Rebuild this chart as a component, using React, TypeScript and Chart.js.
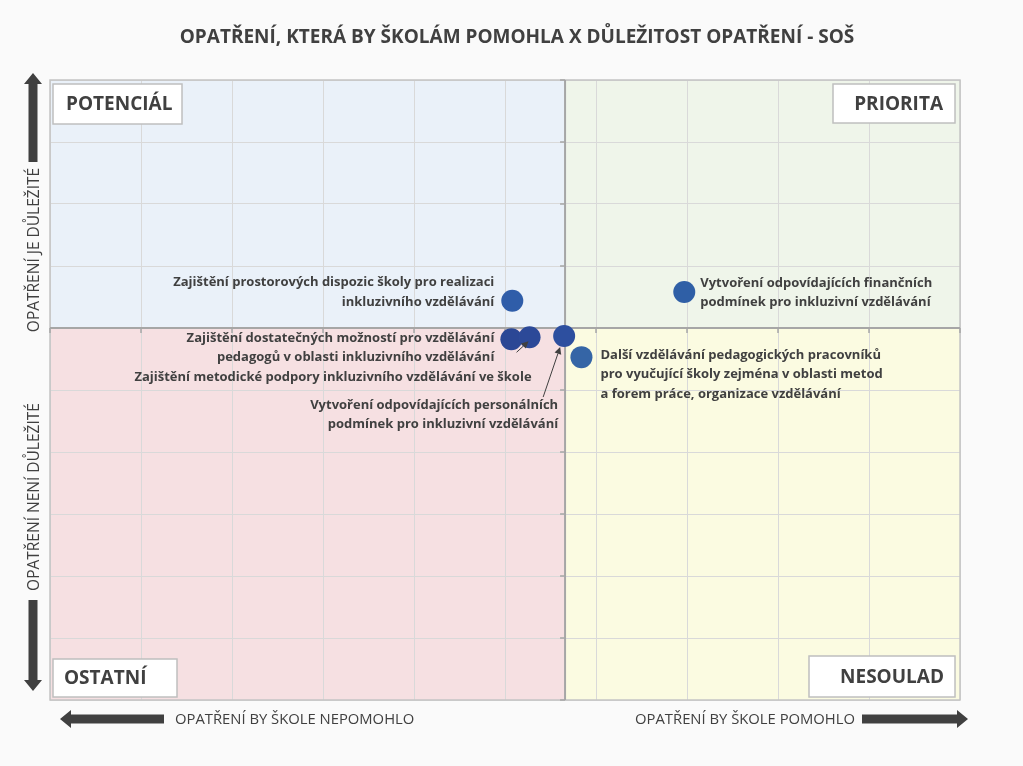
import React, { useEffect, useRef } from 'react';
import { Chart, registerables } from 'chart.js';

Chart.register(...registerables);

// ---- data ----
const titleText = 'OPATŘENÍ, KTERÁ BY ŠKOLÁM POMOHLA X DŮLEŽITOST OPATŘENÍ - SOŠ';
const pointNames = [
  ['Zajištění prostorových dispozic školy pro realizaci', 'inkluzivního vzdělávání'],
  ['Vytvoření odpovídajících finančních', 'podmínek pro inkluzivní vzdělávání'],
  ['Zajištění dostatečných možností pro vzdělávání', 'pedagogů v oblasti inkluzivního vzdělávání'],
  ['Zajištění metodické podpory inkluzivního vzdělávání ve škole'],
  ['Vytvoření odpovídajících personálních', 'podmínek pro inkluzivní vzdělávání'],
  ['Další vzdělávání pedagogických pracovníků', 'pro vyučující školy zejména v oblasti metod', 'a forem práce, organizace vzdělávání'],
];
const helpValues = [50.8, 69.7, 50.7, 52.7, 56.5, 58.4];
const importanceValues = [64.4, 65.8, 58.2, 58.5, 58.7, 55.3];
const helpCross = 56.6;
const importanceCross = 60;
const quadrantNames = ['POTENCIÁL', 'PRIORITA', 'OSTATNÍ', 'NESOULAD'];
const yAxisTexts = ['OPATŘENÍ JE DŮLEŽITÉ', 'OPATŘENÍ NENÍ DŮLEŽITÉ'];
const xAxisTexts = ['OPATŘENÍ BY ŠKOLE NEPOMOHLO', 'OPATŘENÍ BY ŠKOLE POMOHLO'];

// ---- styles / layout ----
const pointColors = ['#2F5DA9', '#2F5FA6', '#2B4795', '#2C4998', '#2D4F9F', '#3565A6'];
const labelLayout = [
  { align: 'right', dx: -18, dy: -18 },
  { align: 'left', dx: 16, dy: -9 },
  { align: 'right', dx: -17, dy: -1 },
  { align: 'right', dx: 2, dy: 40, arrow: [-13, 15, -1, 4] },
  { align: 'right', dx: -6, dy: 69, arrow: [-21, 61, -4, 11] },
  { align: 'left', dx: 19, dy: -2 },
];
const TEXT = '#404040';
const FONT = '"Open Sans", sans-serif';

function blockArrow(ctx, x1, y1, x2, y2, shaftW, headW, headL) {
  const dx = x2 - x1, dy = y2 - y1;
  const len = Math.hypot(dx, dy);
  const ux = dx / len, uy = dy / len;
  const px = -uy, py = ux;
  const bx = x2 - ux * headL, by = y2 - uy * headL;
  ctx.beginPath();
  ctx.moveTo(x1 + px * shaftW / 2, y1 + py * shaftW / 2);
  ctx.lineTo(bx + px * shaftW / 2, by + py * shaftW / 2);
  ctx.lineTo(bx + px * headW / 2, by + py * headW / 2);
  ctx.lineTo(x2, y2);
  ctx.lineTo(bx - px * headW / 2, by - py * headW / 2);
  ctx.lineTo(bx - px * shaftW / 2, by - py * shaftW / 2);
  ctx.lineTo(x1 - px * shaftW / 2, y1 - py * shaftW / 2);
  ctx.closePath();
  ctx.fill();
}

function thinArrow(ctx, x1, y1, x2, y2) {
  const dx = x2 - x1, dy = y2 - y1;
  const len = Math.hypot(dx, dy);
  const ux = dx / len, uy = dy / len;
  const px = -uy, py = ux;
  const hl = 7, hw = 3.5;
  ctx.strokeStyle = TEXT;
  ctx.fillStyle = TEXT;
  ctx.lineWidth = 1;
  ctx.beginPath();
  ctx.moveTo(x1, y1);
  ctx.lineTo(x2 - ux * hl, y2 - uy * hl);
  ctx.stroke();
  ctx.beginPath();
  ctx.moveTo(x2, y2);
  ctx.lineTo(x2 - ux * hl + px * hw, y2 - uy * hl + py * hw);
  ctx.lineTo(x2 - ux * hl - px * hw, y2 - uy * hl - py * hw);
  ctx.closePath();
  ctx.fill();
}

const quadrantPlugin = {
  id: 'quadrants',
  beforeDraw(chart) {
    const { ctx, chartArea: a, scales } = chart;
    const cx = scales.x.getPixelForValue(helpCross);
    const cy = scales.y.getPixelForValue(importanceCross);
    ctx.save();
    ctx.fillStyle = '#FAFAFA';
    ctx.fillRect(0, 0, chart.width, chart.height);
    ctx.fillStyle = '#EAF1F9';
    ctx.fillRect(a.left, a.top, cx - a.left, cy - a.top);
    ctx.fillStyle = '#EFF5EA';
    ctx.fillRect(cx, a.top, a.right - cx, cy - a.top);
    ctx.fillStyle = '#F6E0E2';
    ctx.fillRect(a.left, cy, cx - a.left, a.bottom - cy);
    ctx.fillStyle = '#FBFBE1';
    ctx.fillRect(cx, cy, a.right - cx, a.bottom - cy);
    // title
    ctx.fillStyle = TEXT;
    ctx.font = `bold 19px ${FONT}`;
    ctx.textAlign = 'center';
    ctx.textBaseline = 'middle';
    ctx.fillText(titleText, 517, 38);
    ctx.restore();
  },
  beforeDatasetsDraw(chart) {
    const { ctx, chartArea: a, scales } = chart;
    const cx = scales.x.getPixelForValue(helpCross);
    const cy = scales.y.getPixelForValue(importanceCross);
    ctx.save();
    ctx.strokeStyle = '#C4C4C4';
    ctx.lineWidth = 1.5;
    ctx.strokeRect(a.left, a.top, a.right - a.left, a.bottom - a.top);
    ctx.strokeStyle = '#A6A6A6';
    ctx.lineWidth = 2;
    ctx.beginPath();
    ctx.moveTo(cx, a.top);
    ctx.lineTo(cx, a.bottom);
    ctx.moveTo(a.left, cy);
    ctx.lineTo(a.right, cy);
    ctx.stroke();
    ctx.lineWidth = 1.5;
    ctx.beginPath();
    scales.y.ticks.forEach((t) => {
      const y = scales.y.getPixelForValue(t.value);
      ctx.moveTo(cx - 5, y);
      ctx.lineTo(cx, y);
    });
    scales.x.ticks.forEach((t) => {
      const x = scales.x.getPixelForValue(t.value);
      ctx.moveTo(x, cy);
      ctx.lineTo(x, cy + 5);
    });
    ctx.stroke();
    ctx.restore();
  },
  afterDatasetsDraw(chart) {
    const { ctx, chartArea: a, scales } = chart;
    ctx.save();
    ctx.fillStyle = TEXT;
    ctx.font = `bold 13px ${FONT}`;
    ctx.textBaseline = 'middle';
    pointNames.forEach((lines, i) => {
      const px = scales.x.getPixelForValue(helpValues[i]);
      const py = scales.y.getPixelForValue(importanceValues[i]);
      const L = labelLayout[i];
      ctx.fillStyle = TEXT;
      ctx.textAlign = L.align;
      lines.forEach((s, j) => {
        ctx.fillText(s, px + L.dx, py + L.dy + j * 19.5);
      });
      if (L.arrow) {
        thinArrow(ctx, px + L.arrow[0], py + L.arrow[1], px + L.arrow[2], py + L.arrow[3]);
      }
    });

    const boxes = [
      { x: a.left + 3, y: a.top + 4, w: 129, h: 40, align: 'left', tx: 13 },
      { x: a.right - 127, y: a.top + 4, w: 122, h: 39, align: 'right', tx: 12 },
      { x: a.left + 3, y: a.bottom - 41, w: 124, h: 38, align: 'left', tx: 11 },
      { x: a.right - 151, y: a.bottom - 44, w: 146, h: 41, align: 'right', tx: 11 },
    ];
    ctx.font = `bold 19px ${FONT}`;
    boxes.forEach((b, i) => {
      ctx.fillStyle = '#FFFFFF';
      ctx.fillRect(b.x, b.y, b.w, b.h);
      ctx.strokeStyle = '#BFBFBF';
      ctx.lineWidth = 1.5;
      ctx.strokeRect(b.x, b.y, b.w, b.h);
      ctx.fillStyle = TEXT;
      ctx.textAlign = b.align;
      ctx.textBaseline = 'middle';
      const tx = b.align === 'left' ? b.x + b.tx : b.x + b.w - b.tx;
      ctx.fillText(quadrantNames[i], tx, b.y + b.h / 2 + 1);
    });

    ctx.fillStyle = '#404040';
    blockArrow(ctx, 33, 162, 33, 73, 9, 18, 11);
    blockArrow(ctx, 33, 600, 33, 691, 9, 18, 11);
    blockArrow(ctx, 164, 719, 60, 719, 9, 18, 11);
    blockArrow(ctx, 862, 719, 968, 719, 9, 18, 11);

    ctx.fillStyle = TEXT;
    ctx.font = `14.8px ${FONT}`;
    ctx.textBaseline = 'middle';
    ctx.textAlign = 'left';
    ctx.fillText(xAxisTexts[0], 175, 720);
    ctx.textAlign = 'right';
    ctx.fillText(xAxisTexts[1], 855, 720);
    ctx.font = `15.5px ${FONT}`;
    ctx.save();
    ctx.translate(35, 250);
    ctx.rotate(-Math.PI / 2);
    ctx.textAlign = 'center';
    ctx.fillText(yAxisTexts[0], 0, 0);
    ctx.restore();
    ctx.save();
    ctx.translate(35, 497);
    ctx.rotate(-Math.PI / 2);
    ctx.textAlign = 'center';
    ctx.fillText(yAxisTexts[1], 0, 0);
    ctx.restore();
    ctx.restore();
  },
};

export default function App() {
  const ref = useRef<HTMLCanvasElement>(null);
  useEffect(() => {
    if (!ref.current) return;
    const chart = new Chart(ref.current, {
      type: 'scatter',
      data: {
        datasets: [
          {
            data: helpValues.map((x, i) => ({ x, y: importanceValues[i] })),
            backgroundColor: pointColors,
            borderColor: pointColors,
            borderWidth: 0,
            pointRadius: 11,
            pointHoverRadius: 11,
          },
        ],
      },
      options: {
        animation: false,
        responsive: false,
        devicePixelRatio: 1,
        layout: { padding: { left: 50, right: 63, top: 80, bottom: 66 } },
        plugins: {
          legend: { display: false },
          tooltip: { enabled: false },
          title: { display: false },
        },
        scales: {
          x: {
            type: 'linear',
            min: 0,
            max: 100,
            ticks: { display: false, stepSize: 10 },
            grid: { color: '#D9D9D9', drawTicks: false, lineWidth: 1 },
            border: { display: false },
          },
          y: {
            type: 'linear',
            min: 0,
            max: 100,
            ticks: { display: false, stepSize: 10 },
            grid: { color: '#D9D9D9', drawTicks: false, lineWidth: 1 },
            border: { display: false },
          },
        },
      },
      plugins: [quadrantPlugin],
    });
    return () => chart.destroy();
  }, []);
  return (
    <div style={{ position: 'fixed', left: 0, top: 0, width: 1023, height: 766 }}>
      <canvas ref={ref} width={1023} height={766} style={{ width: 1023, height: 766, display: 'block' }} />
    </div>
  );
}
